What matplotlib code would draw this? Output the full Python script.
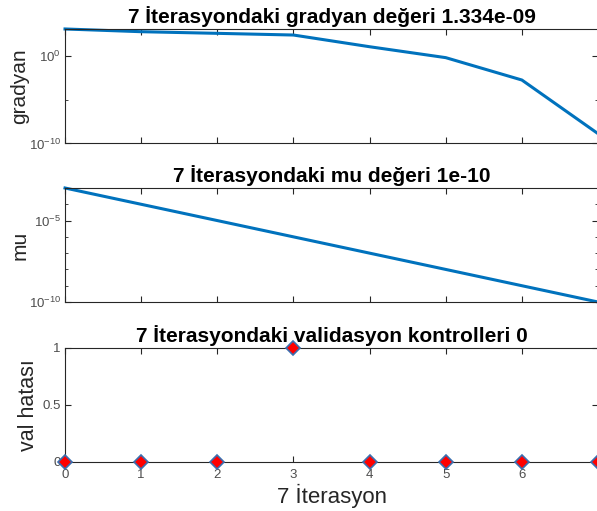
import numpy as np
import matplotlib
matplotlib.use('Agg')
import matplotlib.pyplot as plt
from matplotlib.ticker import FixedLocator, FixedFormatter, NullFormatter

plt.rcParams['font.family'] = ['Liberation Sans', 'DejaVu Sans']
plt.rcParams['mathtext.fontset'] = 'custom'
plt.rcParams['mathtext.rm'] = 'Liberation Sans'
plt.rcParams['mathtext.it'] = 'Liberation Sans'

# egitim durumu (7 iterasyon)
epochs = [0, 1, 2, 3, 4, 5, 6, 7]
epoch_labels = ['0', '1', '2', '3', '4', '5', '6', '']
gradyan = [1230, 600, 390, 250, 11.5, 0.65, 1.8e-3, 1.334e-9]
mu = [1e-3, 1e-4, 1e-5, 1e-6, 1e-7, 1e-8, 1e-9, 1e-10]
val_hata = [0, 0, 0, 1, 0, 0, 0, 0]

grad_title = '7 İterasyondaki gradyan değeri 1.334e-09'
mu_title = '7 İterasyondaki mu değeri 1e-10'
val_title = '7 İterasyondaki validasyon kontrolleri 0'
xlabel = '7 İterasyon'

mblue = '#0072BD'
axcol = '#262626'
tickcol = '#4d4d4d'

fig = plt.figure(figsize=(5.97, 5.11), dpi=100)
ax1 = fig.add_axes([0.1089, 0.7192, 0.8928, 0.2241])
ax2 = fig.add_axes([0.1089, 0.4090, 0.8928, 0.2231])
ax3 = fig.add_axes([0.1089, 0.0959, 0.8928, 0.2231])


def style(ax):
    for s in ax.spines.values():
        s.set_color(axcol)
        s.set_linewidth(0.8)
    ax.tick_params(which='both', direction='in', top=True, right=True,
                   colors=axcol, labelcolor=tickcol, labelsize=9.5, pad=3)
    ax.tick_params(which='major', length=4)
    ax.tick_params(which='minor', length=2.5)
    ax.set_xlim(0, 7)
    ax.xaxis.set_major_locator(FixedLocator(epochs))


ax1.plot(epochs, gradyan, color=mblue, lw=2.2, clip_on=False)
ax1.set_yscale('log')
ax1.set_ylim(1e-10, gradyan[0])
style(ax1)
ax1.yaxis.set_major_locator(FixedLocator([1e-10, 1e0]))
ax1.yaxis.set_major_formatter(FixedFormatter(['$10^{-10}$', '$10^{0}$']))
ax1.yaxis.set_minor_locator(FixedLocator([1e-5]))
ax1.yaxis.set_minor_formatter(NullFormatter())
ax1.xaxis.set_major_formatter(NullFormatter())
ax1.set_title(grad_title, fontsize=15, fontweight='bold', pad=4)
ax1.set_ylabel('gradyan', fontsize=15, color=axcol)
ax1.yaxis.set_label_coords(-0.067, 0.5)

ax2.plot(epochs, mu, color=mblue, lw=2.2, clip_on=False)
ax2.set_yscale('log')
ax2.set_ylim(1e-10, 1e-3)
style(ax2)
ax2.yaxis.set_major_locator(FixedLocator([1e-10, 1e-5]))
ax2.yaxis.set_major_formatter(FixedFormatter(['$10^{-10}$', '$10^{-5}$']))
ax2.yaxis.set_minor_locator(FixedLocator([1e-9, 1e-8, 1e-7, 1e-6, 1e-4]))
ax2.yaxis.set_minor_formatter(NullFormatter())
ax2.xaxis.set_major_formatter(NullFormatter())
ax2.set_title(mu_title, fontsize=15, fontweight='bold', pad=4)
ax2.set_ylabel('mu', fontsize=15, color=axcol)
ax2.yaxis.set_label_coords(-0.067, 0.5)

ax3.plot(epochs, val_hata, linestyle='none', marker='D', markersize=7,
         markerfacecolor='#ff0000', markeredgecolor='#3a6fb0',
         markeredgewidth=1.2, clip_on=False, zorder=5)
ax3.set_ylim(0, 1)
style(ax3)
ax3.yaxis.set_major_locator(FixedLocator([0, 0.5, 1]))
ax3.yaxis.set_major_formatter(FixedFormatter(['0', '0.5', '1']))
ax3.xaxis.set_major_formatter(FixedFormatter(epoch_labels))
ax3.tick_params(axis='x', pad=5)
ax3.set_title(val_title, fontsize=15, fontweight='bold', pad=4)
ax3.set_ylabel('val hatası', fontsize=15.5, color=axcol)
ax3.yaxis.set_label_coords(-0.049, 0.5)
ax3.set_xlabel(xlabel, fontsize=16, color=axcol, labelpad=2)

fig.savefig('out.png', dpi=100)
